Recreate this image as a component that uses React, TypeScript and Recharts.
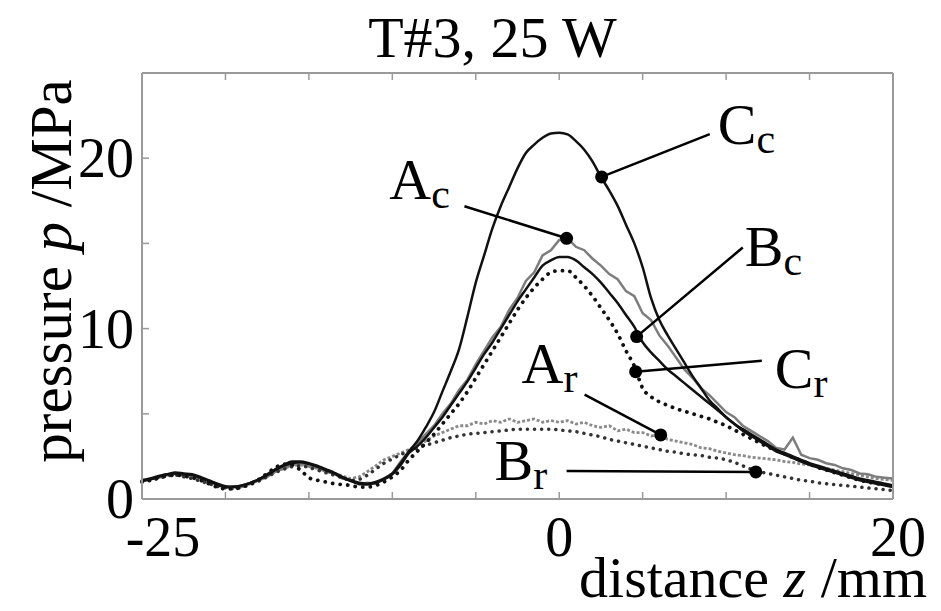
import React from "react";
import { ComposedChart, Line, XAxis, YAxis, ReferenceDot, ReferenceLine, Label } from "recharts";

const FONT = "'Liberation Serif', 'Times New Roman', Times, serif";

// distance z (mm)
const zValues = [
  -25, -24.5, -24, -23.5, -23, -22.5, -22, -21.5, -21, -20.5,
  -20, -19.5, -19, -18.5, -18, -17.5, -17, -16.5, -16, -15.5,
  -15, -14.5, -14, -13.5, -13, -12.5, -12, -11.5, -11, -10.5,
  -10, -9.5, -9, -8.5, -8, -7.5, -7, -6.5, -6, -5.5,
  -5, -4.5, -4, -3.5, -3, -2.5, -2, -1.5, -1, -0.5,
  0, 0.5, 1, 1.5, 2, 2.5, 3, 3.5, 4, 4.5,
  5, 5.5, 6, 6.5, 7, 7.5, 8, 8.5, 9, 9.5,
  10, 10.5, 11, 11.5, 12, 12.5, 13, 13.5, 14, 14.5,
  15, 15.5, 16, 16.5, 17, 17.5, 18, 18.5, 19, 19.5,
  20,
];

// pressure p (MPa)
const ccValues = [
  1.1, 1.2, 1.35, 1.45, 1.55, 1.5, 1.45, 1.3, 1.1, 0.9,
  0.75, 0.72, 0.8, 0.95, 1.15, 1.45, 1.75, 2.0, 2.2, 2.2,
  2.1, 1.95, 1.75, 1.55, 1.3, 1.1, 0.95, 0.9, 1.0, 1.2,
  1.5, 2.1, 2.8, 3.4, 4.2, 5.1, 6.3, 7.5, 8.8, 10.7,
  12.7, 14.3, 15.9, 17.2, 18.3, 19.4, 20.3, 20.8, 21.2, 21.45,
  21.5, 21.4, 21.0, 20.5, 19.8, 18.9, 18.1, 17.2, 16.1, 15.0,
  13.6, 11.8, 10.5, 9.6, 8.8, 8.0, 7.2, 6.5, 5.8, 5.3,
  4.8, 4.4, 4.0, 3.7, 3.4, 3.1, 2.8, 2.6, 2.4, 2.2,
  2.0, 1.85, 1.7, 1.55, 1.4, 1.25, 1.1, 1.0, 0.9, 0.8,
  0.7,
];

const bcValues = [
  1.05, 1.15, 1.3, 1.45, 1.5, 1.45, 1.4, 1.25, 1.05, 0.85,
  0.7, 0.7, 0.8, 0.95, 1.15, 1.4, 1.7, 1.95, 2.1, 2.15,
  2.05, 1.9, 1.7, 1.5, 1.25, 1.05, 0.9, 0.85, 0.95, 1.15,
  1.45, 2.0, 2.7, 3.1, 3.6, 4.2, 4.8, 5.5, 6.2, 6.9,
  7.7, 8.5, 9.2, 10.0, 10.8, 11.6, 12.3, 13.0, 13.7, 14.0,
  14.2, 14.2, 14.0, 13.6, 13.2, 12.7, 12.1, 11.5, 10.8, 10.1,
  9.2, 8.6, 8.1, 7.6, 7.2, 6.8, 6.4, 6.0, 5.6, 5.2,
  4.8, 4.4, 4.1, 3.8, 3.5, 3.2, 2.9, 2.7, 2.5, 2.3,
  2.1, 1.95, 1.8, 1.65, 1.5, 1.35, 1.2, 1.1, 1.0, 0.9,
  0.8,
];

const acValues = [
  1.0, 1.2, 1.25, 1.4, 1.5, 1.35, 1.4, 1.2, 1.0, 0.9,
  0.65, 0.75, 0.7, 0.9, 1.1, 1.3, 1.6, 1.8, 2.0, 2.1,
  1.9, 1.85, 1.6, 1.5, 1.2, 1.1, 0.85, 0.95, 0.9, 1.2,
  1.5, 2.2, 2.8, 3.3, 3.8, 4.3, 5.0, 5.6, 6.4, 7.0,
  7.9, 8.7, 9.5, 10.1, 11.1, 11.8, 12.8, 13.3, 14.3, 14.6,
  15.2, 15.3, 14.8, 14.6, 14.1, 13.7, 13.2, 12.9, 12.2, 11.9,
  10.9, 10.5, 9.6, 9.0, 8.3, 7.6, 7.1, 6.5, 6.1, 5.6,
  5.1, 4.8, 4.3, 4.0, 3.7, 3.4, 3.0, 2.9, 3.6, 2.6,
  2.4, 2.3, 2.1, 2.0, 1.8, 1.7, 1.5, 1.45, 1.3, 1.25,
  1.2,
];

const crValues = [
  1.0, 1.1, 1.25, 1.35, 1.4, 1.35, 1.25, 1.1, 0.9, 0.7,
  0.6, 0.6, 0.7, 0.9, 1.15, 1.5, 1.85, 2.05, 2.0, 1.7,
  1.25, 1.1, 1.0, 0.9, 0.85, 0.8, 0.7, 0.7, 0.8, 1.0,
  1.3, 1.7, 2.3, 2.8, 3.3, 3.8, 4.4, 5.0, 5.6, 6.3,
  7.1, 7.9, 8.7, 9.5, 10.3, 11.1, 11.8, 12.4, 12.9, 13.3,
  13.4, 13.4, 13.0, 12.5, 11.9, 11.2, 10.5, 9.7, 8.7, 7.8,
  6.5, 6.0, 5.7, 5.5, 5.3, 5.15, 5.0, 4.85, 4.7, 4.5,
  4.3, 4.05, 3.8, 3.55, 3.3, 3.05, 2.85, 2.65, 2.45, 2.25,
  2.05, 1.85, 1.7, 1.55, 1.4, 1.25, 1.1, 1.0, 0.9, 0.85,
  0.8,
];

const arValues = [
  1.1, 1.15, 1.3, 1.4, 1.45, 1.35, 1.3, 1.15, 0.95, 0.8,
  0.7, 0.65, 0.75, 0.9, 1.1, 1.35, 1.6, 1.8, 1.95, 2.0,
  1.9, 1.8, 1.65, 1.5, 1.35, 1.2, 1.3, 1.6, 1.95, 2.3,
  2.5, 2.7, 2.9, 3.1, 3.4, 3.7, 3.9, 4.1, 4.3, 4.3,
  4.5, 4.4, 4.6, 4.5, 4.7, 4.5, 4.6, 4.7, 4.5, 4.6,
  4.5, 4.6, 4.4, 4.5, 4.3, 4.2, 4.3, 4.0, 4.1, 3.9,
  3.9, 3.7, 3.75, 3.5, 3.4, 3.3, 3.2, 3.0, 2.95, 2.8,
  2.7, 2.6, 2.55, 2.45, 2.4, 2.35, 2.3, 2.2, 2.15, 2.05,
  2.0, 1.9, 1.8, 1.7, 1.6, 1.5, 1.4, 1.3, 1.2, 1.15,
  1.1,
];

const brValues = [
  1.05, 1.1, 1.2, 1.35, 1.4, 1.3, 1.2, 1.05, 0.9, 0.75,
  0.65, 0.6, 0.7, 0.85, 1.05, 1.3, 1.55, 1.75, 1.9, 1.95,
  1.85, 1.7, 1.55, 1.4, 1.25, 1.1, 1.15, 1.4, 1.75, 2.1,
  2.35, 2.6, 2.8, 3.0, 3.15, 3.3, 3.45, 3.6, 3.7, 3.8,
  3.85, 3.9, 3.95, 4.0, 4.05, 4.1, 4.1, 4.1, 4.1, 4.1,
  4.05, 4.0, 3.95, 3.85, 3.75, 3.65, 3.5, 3.4, 3.3, 3.2,
  3.1, 3.0, 2.9, 2.8, 2.75, 2.65, 2.6, 2.55, 2.45, 2.4,
  2.3, 2.15, 1.95, 1.75, 1.6, 1.5, 1.4, 1.3, 1.2, 1.1,
  1.05, 0.95, 0.9, 0.85, 0.8, 0.75, 0.7, 0.65, 0.6, 0.55,
  0.5,
];

const xTicks = [-25, -20, -15, -10, -5, 0, 5, 10, 15, 20];
const xTickLabels = ["-25", "", "", "", "", "0", "", "", "", "20"];
const yTicks = [0, 5, 10, 15, 20, 25];
const yTickLabels = ["0", "", "10", "", "20", ""];

// curve labels: dot on the curve, start of the leader line, text anchor (data coords)
const labelNames = ["C", "A", "B", "C", "A", "B"];
const labelSubs = ["c", "c", "c", "r", "r", "r"];
const labelDots = [[2.54, 18.9], [0.44, 15.3], [4.64, 9.53], [4.58, 7.47], [6.08, 3.76], [11.78, 1.59]];
const labelLeaders = [[9.02, 21.41], [-5.68, 17.18], [11.0, 14.76], [12.14, 8.12], [1.52, 6.12], [0.44, 1.65]];
const labelTexts = [[9.5, 20.82], [-10.18, 17.59], [11.12, 13.65], [12.92, 6.53], [-2.26, 6.82], [-3.88, 1.12]];

const table = zValues.map((z, i) => ({
  z,
  Cc: ccValues[i],
  Bc: bcValues[i],
  Ac: acValues[i],
  Cr: crValues[i],
  Ar: arValues[i],
  Br: brValues[i],
}));

const TICK = "#9a9a9a";
const textStyle = { fontFamily: FONT };

const BottomTick = (props: any) => {
  const { x, y, payload } = props;
  const text = xTickLabels[xTicks.indexOf(payload.value)];
  const shift = payload.value === -25 ? 21 : payload.value === 20 ? 5 : 0;
  return (
    <g>
      <line x1={x} y1={y} x2={x} y2={y - 7} stroke={TICK} strokeWidth={1.5} />
      {text && (
        <text x={x + shift} y={y + 57} textAnchor="middle" fontSize={56} style={textStyle} fill="#000">
          {text}
        </text>
      )}
    </g>
  );
};

const TopTick = (props: any) => {
  const { x, y } = props;
  return <line x1={x} y1={y} x2={x} y2={y + 7} stroke={TICK} strokeWidth={1.5} />;
};

const LeftTick = (props: any) => {
  const { x, y, payload } = props;
  const text = yTickLabels[yTicks.indexOf(payload.value)];
  return (
    <g>
      <line x1={x} y1={y} x2={x + 7} y2={y} stroke={TICK} strokeWidth={1.5} />
      {text && (
        <text x={x - 8} y={y + 19} textAnchor="end" fontSize={56} style={textStyle} fill="#000">
          {text}
        </text>
      )}
    </g>
  );
};

const RightTick = (props: any) => {
  const { x, y } = props;
  return <line x1={x} y1={y} x2={x - 7} y2={y} stroke={TICK} strokeWidth={1.5} />;
};

const XTitle = (props: any) => {
  const { x, y, width } = props.viewBox;
  return (
    <text x={x + width + 34} y={y + 98} textAnchor="end" fontSize={58} style={textStyle} fill="#000">
      distance <tspan fontStyle="italic">z</tspan> /mm
    </text>
  );
};

const YTitle = (props: any) => {
  const { x, y, height } = props.viewBox;
  const bx = x - 70;
  const cy = y + height / 2 - 15;
  return (
    <text x={bx} y={cy} transform={`rotate(-90, ${bx}, ${cy})`} textAnchor="middle" fontSize={59} style={textStyle} fill="#000">
      pressure <tspan fontStyle="italic">p</tspan> /MPa
    </text>
  );
};

const Title = (props: any) => {
  const { x, y, width } = props.viewBox;
  return (
    <text x={x + width / 2 - 25} y={y - 15} textAnchor="middle" fontSize={58} style={textStyle} fill="#000">
      T#3, 25 W
    </text>
  );
};

const curveLabel = (name: string, sub: string) => (props: any) => (
  <text x={props.cx} y={props.cy} fontSize={58} style={textStyle} fill="#000">
    {name}
    <tspan fontSize={42} dy={9}>{sub}</tspan>
  </text>
);

export default function App() {
  return (
    <div style={{ position: "absolute", left: 0, top: 0, background: "#fff" }}>
      <ComposedChart width={941} height={611} data={table} margin={{ top: 72, right: 47, bottom: 111, left: 141 }}>
        <XAxis
          dataKey="z"
          type="number"
          domain={[-25, 20]}
          ticks={xTicks}
          interval={0}
          tickSize={0}
          tickMargin={0}
          tickLine={false}
          tick={<BottomTick />}
          height={1}
          axisLine={{ stroke: TICK, strokeWidth: 2 }}
        >
          <Label content={XTitle} />
        </XAxis>
        <XAxis
          xAxisId="top"
          orientation="top"
          dataKey="z"
          type="number"
          domain={[-25, 20]}
          ticks={xTicks}
          interval={0}
          tickSize={0}
          tickMargin={0}
          tickLine={false}
          tick={<TopTick />}
          height={1}
          axisLine={{ stroke: TICK, strokeWidth: 2 }}
        >
          <Label content={Title} />
        </XAxis>
        <YAxis
          type="number"
          domain={[0, 25]}
          ticks={yTicks}
          interval={0}
          tickSize={0}
          tickMargin={0}
          tickLine={false}
          tick={<LeftTick />}
          width={1}
          axisLine={{ stroke: TICK, strokeWidth: 2 }}
        >
          <Label content={YTitle} />
        </YAxis>
        <YAxis
          yAxisId="right"
          orientation="right"
          type="number"
          domain={[0, 25]}
          ticks={yTicks}
          interval={0}
          tickSize={0}
          tickMargin={0}
          tickLine={false}
          tick={<RightTick />}
          width={1}
          axisLine={{ stroke: TICK, strokeWidth: 2 }}
        />

        <Line dataKey="Ar" type="linear" stroke="#8a8a8a" strokeWidth={2.8} strokeDasharray="3 2" dot={false} isAnimationActive={false} />
        <Line dataKey="Ac" type="linear" stroke="#7d7d7d" strokeWidth={2.5} dot={false} isAnimationActive={false} />
        <Line dataKey="Br" type="monotone" stroke="#333" strokeWidth={3.5} strokeDasharray="0.1 7" strokeLinecap="round" dot={false} isAnimationActive={false} />
        <Line dataKey="Cr" type="monotone" stroke="#111" strokeWidth={3.8} strokeDasharray="0.1 7.5" strokeLinecap="round" dot={false} isAnimationActive={false} />
        <Line dataKey="Bc" type="monotone" stroke="#111" strokeWidth={2.5} dot={false} isAnimationActive={false} />
        <Line dataKey="Cc" type="monotone" stroke="#111" strokeWidth={2.5} dot={false} isAnimationActive={false} />

        {labelDots.map((d, i) => (
          <ReferenceLine
            key={`lead-${i}`}
            segment={[{ x: labelLeaders[i][0], y: labelLeaders[i][1] }, { x: d[0], y: d[1] }]}
            stroke="#000"
            strokeWidth={2.5}
            ifOverflow="visible"
          />
        ))}
        {labelDots.map((d, i) => (
          <ReferenceDot key={`dot-${i}`} x={d[0]} y={d[1]} r={6.5} fill="#000" stroke="none" ifOverflow="visible" />
        ))}
        {labelTexts.map((t, i) => (
          <ReferenceDot key={`txt-${i}`} x={t[0]} y={t[1]} r={0} ifOverflow="visible" shape={curveLabel(labelNames[i], labelSubs[i])} />
        ))}
      </ComposedChart>
    </div>
  );
}
